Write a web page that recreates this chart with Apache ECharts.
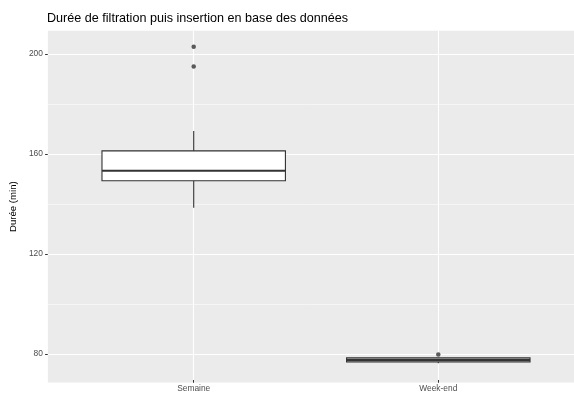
<!DOCTYPE html>
<html>
<head>
<meta charset="utf-8">
<script src="https://cdn.jsdelivr.net/npm/echarts@6/dist/echarts.min.js"></script>
<style>
html,body{margin:0;padding:0;background:#fff;}
#chart{width:574px;height:393px;}
</style>
</head>
<body>
<div id="chart"></div>
<script>
// ---- data ----
const categories = ['Semaine', 'Week-end'];
const lowerWhisker = [138.0, 75.3];
const q1 = [148.9, 75.9];
const median = [152.9, 76.7];
const q3 = [160.9, 77.5];
const upperWhisker = [168.9, 77.6];
const outlierCategory = ['Semaine', 'Semaine', 'Week-end'];
const outlierValue = [202.9, 194.9, 78.9];
const yTicks = [80, 120, 160, 200];
const titleText = 'Durée de filtration puis insertion en base des données';
const yTitle = 'Durée (min)';

// ---- build ----
const FONT = 'Liberation Sans';
const yMin = 68.6, yMax = 209.3;
const boxData = categories.map((c, i) => [i, lowerWhisker[i], q1[i], median[i], q3[i], upperWhisker[i]]);
const outlierData = outlierValue.map((v, i) => [categories.indexOf(outlierCategory[i]), v]);
const minorTicks = [];
for (let i = 0; i < yTicks.length - 1; i++) minorTicks.push((yTicks[i] + yTicks[i + 1]) / 2);

const panelTop = 30.75, panelBottomPx = 382.5, H = 393;

const lineMark = (axisKey, values, width) => values.map(v => ({[axisKey]: v, lineStyle: {color: '#ffffff', width: width, type: 'solid'}}));

const chart = echarts.init(document.getElementById('chart'), null, {renderer: 'canvas'});
chart.setOption({
  animation: false,
  backgroundColor: '#ffffff',
  title: {
    text: titleText,
    left: 47,
    top: 12,
    padding: 0,
    textStyle: {fontFamily: FONT, fontSize: 12.6, fontWeight: 'normal', color: '#000'}
  },
  grid: [
    {left: 47, right: 0, top: panelTop, bottom: H - panelBottomPx, show: true, backgroundColor: '#EBEBEB', borderWidth: 0},
    {left: 71.4, width: 489.2, top: panelTop, bottom: H - panelBottomPx, show: false}
  ],
  xAxis: [
    {gridIndex: 0, type: 'value', min: 0, max: 1, show: false},
    {
      gridIndex: 1, type: 'category', data: categories,
      boundaryGap: true,
      axisLine: {show: false},
      axisTick: {show: true, alignWithLabel: true, length: 2.75, lineStyle: {color: '#333333', width: 1}},
      axisLabel: {margin: 5, fontFamily: FONT, fontSize: 8.4, color: '#4D4D4D'},
      splitLine: {show: false}
    }
  ],
  yAxis: [
    {
      gridIndex: 0, type: 'value', min: yMin, max: yMax,
      axisLine: {show: false},
      axisTick: {show: true, length: 2.75, customValues: yTicks, lineStyle: {color: '#333333', width: 1}},
      axisLabel: {margin: 5, customValues: yTicks, fontFamily: FONT, fontSize: 8.4, color: '#4D4D4D'},
      splitLine: {show: false},
      name: yTitle, nameLocation: 'middle', nameGap: 28,
      nameTextStyle: {fontFamily: FONT, fontSize: 9.6, color: '#000'}
    },
    {gridIndex: 1, type: 'value', min: yMin, max: yMax, show: false}
  ],
  series: [
    {
      // horizontal panel gridlines
      type: 'line', xAxisIndex: 0, yAxisIndex: 0, data: [], z: 1, silent: true,
      markLine: {
        z: 1, silent: true, symbol: ['none', 'none'], label: {show: false}, animation: false,
        emphasis: {disabled: true},
        data: lineMark('yAxis', minorTicks, 0.55).concat(lineMark('yAxis', yTicks, 1.1))
      }
    },
    {
      // vertical gridlines at categories
      type: 'line', xAxisIndex: 1, yAxisIndex: 1, data: [], z: 1, silent: true,
      markLine: {
        z: 1, silent: true, symbol: ['none', 'none'], label: {show: false}, animation: false,
        emphasis: {disabled: true},
        data: lineMark('xAxis', categories, 1.1)
      }
    },
    {
      type: 'custom',
      xAxisIndex: 1, yAxisIndex: 1,
      data: boxData,
      encode: {x: 0, y: [1, 2, 3, 4, 5]},
      z: 10,
      renderItem: function (params, api) {
        const x = api.value(0);
        const pLo = api.coord([x, api.value(1)]);
        const pQ1 = api.coord([x, api.value(2)]);
        const pMed = api.coord([x, api.value(3)]);
        const pQ3 = api.coord([x, api.value(4)]);
        const pHi = api.coord([x, api.value(5)]);
        const bw = api.size([1, 0])[0] * 0.75;
        const cx = pMed[0];
        const stroke = '#333333';
        return {
          type: 'group',
          children: [
            {type: 'line', shape: {x1: cx, y1: pLo[1], x2: cx, y2: pQ1[1]}, style: {stroke: stroke, lineWidth: 1.1}},
            {type: 'line', shape: {x1: cx, y1: pQ3[1], x2: cx, y2: pHi[1]}, style: {stroke: stroke, lineWidth: 1.1}},
            {type: 'rect', shape: {x: cx - bw / 2, y: pQ3[1], width: bw, height: pQ1[1] - pQ3[1]},
              style: {fill: '#ffffff', stroke: stroke, lineWidth: 1.1}},
            {type: 'line', shape: {x1: cx - bw / 2, y1: pMed[1], x2: cx + bw / 2, y2: pMed[1]},
              style: {stroke: stroke, lineWidth: 2.1}}
          ]
        };
      }
    },
    {
      type: 'scatter',
      xAxisIndex: 1, yAxisIndex: 1,
      data: outlierData,
      symbol: 'circle', symbolSize: 4.5,
      itemStyle: {color: '#333333'},
      z: 11
    }
  ]
});
</script>
</body>
</html>
